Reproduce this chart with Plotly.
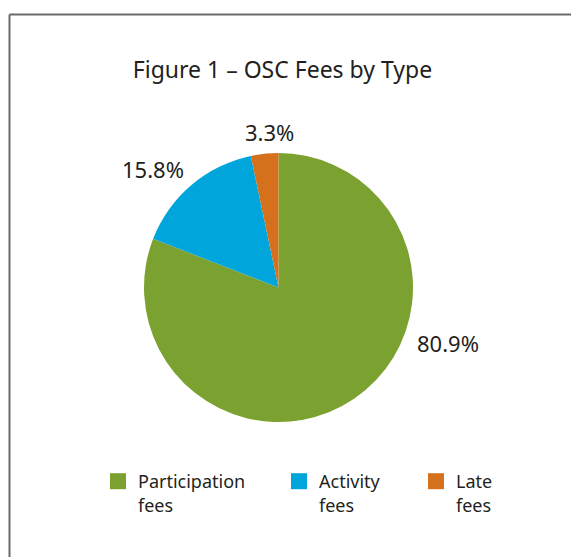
import plotly.graph_objects as go

# Data
categories = ["Participation fees", "Activity fees", "Late fees"]
legend_labels = ["Participation<br>fees", "Activity<br>fees", "Late<br>fees"]
values = [80.9, 15.8, 3.3]
colors = ["#7ba230", "#00a6db", "#d5701c"]
title_text = "Figure 1 – OSC Fees by Type"

W, H = 579, 557
OFF = 8  # page body margin offset
FONT = "Noto Sans, Open Sans, sans-serif"
TXT = "#231f20"


def px_x(v):
    return (v - OFF) / W


def px_y(v):
    return 1 - (v - OFF) / H


fig = go.Figure()
cx, cy, r = 278.5, 287.5, 134.5
fig.add_trace(go.Pie(
    labels=categories, values=values, sort=False, direction="clockwise",
    rotation=0, marker=dict(colors=colors, line=dict(width=0)),
    textinfo="none", hoverinfo="label+percent", showlegend=False,
    domain=dict(x=[px_x(cx - r), px_x(cx + r)], y=[px_y(cy + r), px_y(cy - r)]),
))

# legend entries (square markers), one legend per entry
legend_ids = ["legend", "legend2", "legend3"]
for lab, col, lid in zip(legend_labels, colors, legend_ids):
    fig.add_trace(go.Scatter(
        x=[None], y=[None], mode="markers", name=lab,
        marker=dict(symbol="square", size=16, color=col),
        showlegend=True, legend=lid,
    ))

# percentage labels positions (page px)
label_pos = [(448, 343), (153, 169), (269, 132)]
annotations = []
for v, (px, py) in zip(values, label_pos):
    annotations.append(dict(
        x=px_x(px), y=px_y(py), xref="paper", yref="paper",
        text=f"{v:.1f}%", showarrow=False, xanchor="center", yanchor="middle",
        font=dict(size=22, color=TXT, family=FONT),
    ))

bx, by = px_x(9.5), px_y(14.5)
shapes = [
    dict(type="line", xref="paper", yref="paper", x0=bx, x1=1.05, y0=by, y1=by,
         line=dict(color="#6a6a6a", width=2)),
    dict(type="line", xref="paper", yref="paper", x0=bx, x1=bx, y0=-0.05, y1=by,
         line=dict(color="#6a6a6a", width=2)),
]

leg_x = [98, 279, 416]
leg_common = dict(orientation="v", y=px_y(463), xanchor="left", yanchor="top",
                  valign="top", font=dict(size=18, color=TXT, family=FONT),
                  itemclick=False, itemdoubleclick=False, bgcolor="rgba(0,0,0,0)")

fig.update_layout(
    width=W, height=H,
    margin=dict(l=0, r=0, t=0, b=0),
    paper_bgcolor="white", plot_bgcolor="white",
    font=dict(family=FONT, color=TXT),
    title=dict(text=title_text, x=px_x(282.5), xanchor="center",
               y=px_y(70), yanchor="middle",
               font=dict(size=23, color=TXT, family=FONT)),
    xaxis=dict(visible=False), yaxis=dict(visible=False),
    legend=dict(x=px_x(leg_x[0]), **leg_common),
    legend2=dict(x=px_x(leg_x[1]), **leg_common),
    legend3=dict(x=px_x(leg_x[2]), **leg_common),
    annotations=annotations,
    shapes=shapes,
)

fig.write_html("out.html")
